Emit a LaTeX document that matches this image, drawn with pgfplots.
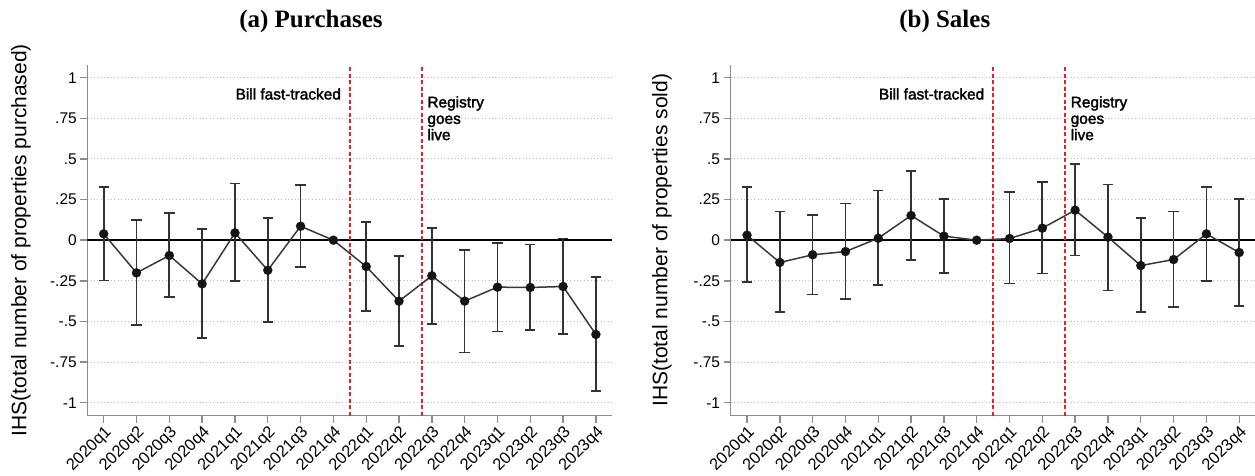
\documentclass[border=0pt]{standalone}
\usepackage{pgfplots}
\pgfplotsset{compat=1.18}
\usepackage{pgfplotstable}
\usepackage{fontspec}
\setmainfont{Liberation Sans}
\newfontfamily\titlefont{Liberation Serif}
\newfontfamily\notefont[FakeBold=2]{Liberation Sans}

\definecolor{eventred}{RGB}{235,30,38}
\definecolor{spinegray}{RGB}{140,140,140}
\definecolor{gridgray}{RGB}{185,185,185}

\newcommand\ticksize{\fontsize{15.5}{18}\selectfont}
\newcommand\xticksize{\fontsize{16.5}{19}\selectfont}
\newcommand\labsize{\fontsize{21}{24}\selectfont}
\newcommand\notesize{\notefont\fontsize{15.4}{17}\selectfont}

% Event-study coefficients with 95% confidence bounds, quarter index 0 = 2020q1
\pgfplotstableread{
q est lo hi
0 0.039 -0.248 0.326
1 -0.201 -0.523 0.123
2 -0.094 -0.351 0.169
3 -0.269 -0.601 0.068
4 0.045 -0.252 0.349
5 -0.185 -0.502 0.135
6 0.086 -0.164 0.341
7 0 0 0
8 -0.162 -0.435 0.111
9 -0.375 -0.650 -0.096
10 -0.219 -0.517 0.076
11 -0.375 -0.691 -0.061
12 -0.289 -0.562 -0.016
13 -0.291 -0.552 -0.026
14 -0.285 -0.576 0.010
15 -0.580 -0.929 -0.228
}\purchases

\pgfplotstableread{
q est lo hi
0 0.031 -0.258 0.326
1 -0.137 -0.443 0.177
2 -0.090 -0.334 0.156
3 -0.070 -0.361 0.226
4 0.012 -0.277 0.306
5 0.152 -0.123 0.427
6 0.025 -0.201 0.252
7 0 0 0
8 0.010 -0.266 0.295
9 0.074 -0.205 0.357
10 0.185 -0.094 0.468
11 0.019 -0.310 0.343
12 -0.156 -0.443 0.138
13 -0.119 -0.410 0.177
14 0.039 -0.250 0.328
15 -0.076 -0.406 0.255
}\sales

\pgfplotsset{
  every axis title shift=0pt,
  eventpanel/.style={
    width=525pt, height=351pt, scale only axis,
    xmin=-0.5, xmax=15.5, ymin=-1.08, ymax=1.08,
    axis x line*=bottom, axis y line*=left,
    axis line style={-, draw=spinegray, line width=1.4pt},
    xtick={0,1,2,3,4,5,6,7,8,9,10,11,12,13,14,15},
    xticklabels={2020q1,2020q2,2020q3,2020q4,2021q1,2021q2,2021q3,2021q4,
                 2022q1,2022q2,2022q3,2022q4,2023q1,2023q2,2023q3,2023q4},
    ytick={-1,-0.75,-0.5,-0.25,0,0.25,0.5,0.75,1},
    yticklabels={-1,-.75,-.5,-.25,0,.25,.5,.75,1},
    tick align=outside, major tick length=7pt,
    tick style={draw=spinegray, line width=1.4pt},
    x tick label style={rotate=45, anchor=north east, font=\xticksize, inner sep=1.2pt},
    y tick label style={font=\ticksize},
    ymajorgrids,
    grid style={draw=gridgray, dash pattern=on 1pt off 2.4pt, line width=1pt},
    ylabel style={font=\labsize, anchor=center},
    title style={font=\titlefont\bfseries\fontsize{25}{28}\selectfont, anchor=center},
  },
  eventline/.style={eventred, line width=1.7pt, dash pattern=on 4pt off 2.5pt, forget plot},
  coefplot/.style={
    draw=black!78, line width=1.5pt,
    mark=*, mark size=4.6pt,
    mark options={fill=black!92, draw=black!92, line width=0.1pt},
    error bars/.cd, y dir=both, y explicit,
    error bar style={line width=1.7pt, draw=black!80},
    error mark options={rotate=90, mark size=5.2pt, line width=1.7pt, draw=black!80},
  },
}

\begin{document}
\begin{tikzpicture}
\useasboundingbox (0pt,0pt) rectangle (1255pt,476pt);

% Panel (a): purchases
\begin{axis}[eventpanel,
  at={(87.3pt,60.3pt)}, anchor=south west,
  title={(a) Purchases},
  title style={at={(axis description cs:0.426,1.122)}},
  ylabel={IHS(total number of properties purchased)},
  ylabel style={at={(axis description cs:-0.1263,0.5)}},
]
\addplot[black, line width=1.6pt, forget plot] coordinates {(-0.5,0) (15.5,0)};
\addplot[eventline] coordinates {(7.5,-1.08) (7.5,1.08)};
\addplot[eventline] coordinates {(9.7,-1.08) (9.7,1.08)};
\addplot[coefplot] table[x=q, y=est,
  y error plus expr=\thisrow{hi}-\thisrow{est},
  y error minus expr=\thisrow{est}-\thisrow{lo}] {\purchases};
\node[anchor=base east, font=\notesize, inner sep=0pt] at (axis cs:7.235,0.866) {Bill fast-tracked};
\node[anchor=base west, font=\notesize, inner sep=0pt] at (axis cs:9.86,0.817) {Registry};
\node[anchor=base west, font=\notesize, inner sep=0pt] at (axis cs:9.86,0.716) {goes};
\node[anchor=base west, font=\notesize, inner sep=0pt] at (axis cs:9.86,0.616) {live};
\end{axis}

% Panel (b): sales
\begin{axis}[eventpanel,
  at={(730.6pt,60.3pt)}, anchor=south west,
  title={(b) Sales},
  title style={at={(axis description cs:0.408,1.122)}},
  ylabel={IHS(total number of properties sold)},
  ylabel style={at={(axis description cs:-0.1307,0.5)}},
]
\addplot[black, line width=1.6pt, forget plot] coordinates {(-0.5,0) (15.5,0)};
\addplot[eventline] coordinates {(7.5,-1.08) (7.5,1.08)};
\addplot[eventline] coordinates {(9.7,-1.08) (9.7,1.08)};
\addplot[coefplot] table[x=q, y=est,
  y error plus expr=\thisrow{hi}-\thisrow{est},
  y error minus expr=\thisrow{est}-\thisrow{lo}] {\sales};
\node[anchor=base east, font=\notesize, inner sep=0pt] at (axis cs:7.235,0.866) {Bill fast-tracked};
\node[anchor=base west, font=\notesize, inner sep=0pt] at (axis cs:9.86,0.817) {Registry};
\node[anchor=base west, font=\notesize, inner sep=0pt] at (axis cs:9.86,0.716) {goes};
\node[anchor=base west, font=\notesize, inner sep=0pt] at (axis cs:9.86,0.616) {live};
\end{axis}
\end{tikzpicture}
\end{document}
